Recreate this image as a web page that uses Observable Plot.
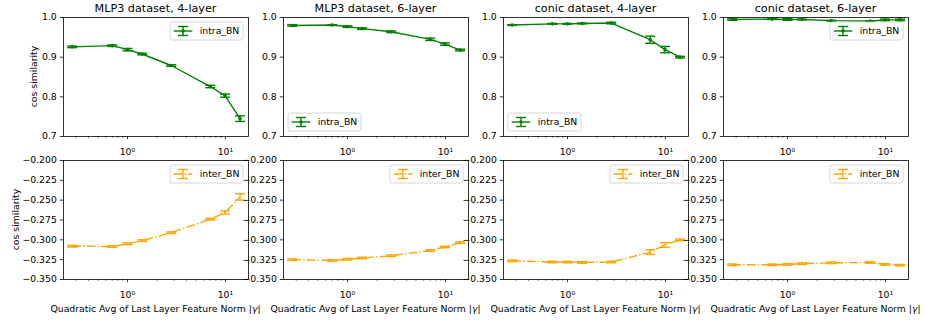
<!DOCTYPE html>
<html>
<head>
<meta charset="utf-8">
<script src="https://cdn.jsdelivr.net/npm/d3@7"></script>
<script src="https://cdn.jsdelivr.net/npm/@observablehq/plot@0.6"></script>
<style>
  body { margin: 0; background: #fff; }
  #fig { position: relative; width: 926px; height: 320px; overflow: hidden; background: #fff; font-family: "DejaVu Sans", sans-serif; }
  #fig > svg { position: absolute; }
</style>
</head>
<body>
<div id="fig"></div>
<script>
// ---------------- data ----------------
const xNorm = [0.273, 0.70, 1.0, 1.41, 2.8, 7.0, 9.9, 14.1];

const panelTitles = ["MLP3 dataset, 4-layer", "MLP3 dataset, 6-layer", "conic dataset, 4-layer", "conic dataset, 6-layer"];

const intraMLP3L4 = [0.926, 0.929, 0.919, 0.908, 0.879, 0.826, 0.803, 0.745];
const intraMLP3L4Err = [0.002, 0.002, 0.003, 0.002, 0.002, 0.003, 0.004, 0.007];
const intraMLP3L6 = [0.980, 0.981, 0.977, 0.972, 0.964, 0.945, 0.933, 0.918];
const intraMLP3L6Err = [0.002, 0.001, 0.002, 0.002, 0.002, 0.003, 0.003, 0.002];
const intraConicL4 = [0.981, 0.984, 0.984, 0.985, 0.986, 0.944, 0.919, 0.900];
const intraConicL4Err = [0.001, 0.001, 0.001, 0.001, 0.002, 0.009, 0.008, 0.002];
const intraConicL6 = [0.995, 0.996, 0.995, 0.995, 0.992, 0.991, 0.994, 0.994];
const intraConicL6Err = [0.002, 0.001, 0.002, 0.001, 0.001, 0.001, 0.002, 0.002];

const interMLP3L4 = [-0.308, -0.3085, -0.305, -0.301, -0.291, -0.274, -0.2655, -0.246];
const interMLP3L4Err = [0.001, 0.001, 0.001, 0.001, 0.001, 0.001, 0.002, 0.004];
const interMLP3L6 = [-0.325, -0.326, -0.3245, -0.323, -0.320, -0.3135, -0.309, -0.3035];
const interMLP3L6Err = [0.001, 0.001, 0.001, 0.001, 0.001, 0.001, 0.001, 0.001];
const interConicL4 = [-0.3265, -0.328, -0.328, -0.3285, -0.328, -0.3155, -0.3065, -0.300];
const interConicL4Err = [0.001, 0.001, 0.001, 0.001, 0.001, 0.003, 0.003, 0.001];
const interConicL6 = [-0.3315, -0.3315, -0.331, -0.330, -0.329, -0.3285, -0.331, -0.332];
const interConicL6Err = [0.001, 0.001, 0.001, 0.001, 0.001, 0.001, 0.001, 0.001];

const seriesNames = ["intra_BN", "inter_BN"];
const intraLegendLoc = ["upper right", "lower left", "lower left", "upper right"];
const interLegendLoc = ["upper right", "upper right", "upper right", "upper right"];

const topYTicks = [0.7, 0.8, 0.9, 1.0];
const bottomYTicks = [-0.350, -0.325, -0.300, -0.275, -0.250, -0.225, -0.200];
const xMajorTicks = [1, 10];
const xMajorLabels = ["10⁰", "10¹"];
const yLabelText = "cos similarity";
const xLabelText = "Quadratic Avg of Last Layer Feature Norm ";

// ---------------- layout / style ----------------
const FX = [63, 283, 503, 723], FW = 185;
const FY = [17, 160], FH = 119;
const X_DOMAIN = [0.2225, 17.2];
const GREEN = "#008000", ORANGE = "#FFA500";
const LW = 1.4;
const DASH = "8.8,2.2,1.4,2.2";
const FS = 9.3, TFS = 11.2;

const minorTicks = [0.1, 1].flatMap(b => d3.range(2, 10).map(k => k * b))
  .filter(v => v > X_DOMAIN[0] && v < X_DOMAIN[1]);

const capSymbol = {
  draw(ctx, size) {
    const w = Math.sqrt(size / Math.PI);
    ctx.moveTo(-w, 0);
    ctx.lineTo(w, 0);
  }
};

const intraSets = [[intraMLP3L4, intraMLP3L4Err], [intraMLP3L6, intraMLP3L6Err], [intraConicL4, intraConicL4Err], [intraConicL6, intraConicL6Err]];
const interSets = [[interMLP3L4, interMLP3L4Err], [interMLP3L6, interMLP3L6Err], [interConicL4, interConicL4Err], [interConicL6, interConicL6Err]];

function rows(vals, errs) {
  return xNorm.map((x, i) => ({x, y: vals[i], lo: vals[i] - errs[i], hi: vals[i] + errs[i]}));
}

const fig = document.getElementById("fig");

function panel(col, row, data, color, dashed, marker) {
  const ml = col === 0 ? FX[0] : 50, mr = 6;
  const mt = row === 0 ? FY[0] : 10, mb = row === 0 ? 24 : 20;
  const lineOpts = {x: "x", y: "y", stroke: color, strokeWidth: LW};
  if (dashed) Object.assign(lineOpts, {strokeDasharray: DASH, strokeLinecap: "butt"});
  const yTicks = row === 0 ? topYTicks : bottomYTicks;
  const yFmt = row === 0 ? d3.format(".1f") : d3.format(".3f");
  const marks = [
    Plot.axisY({ticks: yTicks, tickFormat: yFmt, tickSize: 3.2, tickPadding: 3.5, label: null, strokeWidth: 0.8}),
    Plot.axisX({ticks: minorTicks, tickFormat: () => "", tickSize: 1.8, label: null, strokeWidth: 0.6}),
    Plot.axisX({ticks: xMajorTicks, tickFormat: d => xMajorLabels[xMajorTicks.indexOf(d)], tickSize: 3.2, tickPadding: 8.3, label: null, strokeWidth: 0.8}),
    Plot.line(data, lineOpts),
    Plot.ruleX(data, {x: "x", y1: "lo", y2: "hi", stroke: color, strokeWidth: LW}),
    Plot.dot(data, {x: "x", y: "lo", symbol: capSymbol, r: 5, stroke: color, strokeWidth: LW, fill: "none"}),
    Plot.dot(data, {x: "x", y: "hi", symbol: capSymbol, r: 5, stroke: color, strokeWidth: LW, fill: "none"}),
    marker ? Plot.dot(data, {x: "x", y: "y", r: 1.8, fill: color, stroke: "none"}) : null,
    Plot.frame({stroke: "black", strokeWidth: 0.8})
  ].filter(Boolean);
  const svg = Plot.plot({
    width: FW + ml + mr,
    height: FH + mt + mb,
    marginLeft: ml, marginRight: mr, marginTop: mt, marginBottom: mb,
    x: {type: "log", domain: X_DOMAIN},
    y: {domain: row === 0 ? [0.7, 1.0] : [-0.35, -0.2]},
    style: {background: "transparent", fontFamily: "DejaVu Sans", fontSize: FS + "px", color: "black", overflow: "visible"},
    marks
  });
  svg.style.left = (FX[col] - ml) + "px";
  svg.style.top = (FY[row] - mt) + "px";
  fig.appendChild(svg);
}

for (let c = 0; c < 4; c++) {
  panel(c, 0, rows(...intraSets[c]), GREEN, false, true);
  panel(c, 1, rows(...interSets[c]), ORANGE, true, false);
}

// ---------------- annotations overlay ----------------
const ov = d3.create("svg")
  .attr("width", 926).attr("height", 320)
  .style("left", "0px").style("top", "0px")
  .style("pointer-events", "none")
  .attr("font-family", "DejaVu Sans");

// titles
panelTitles.forEach((t, c) => {
  ov.append("text").attr("x", FX[c] + FW / 2).attr("y", 11.8)
    .attr("text-anchor", "middle").attr("font-size", TFS).attr("fill", "black").text(t);
});
// y labels
[[37, FY[0]], [18.5, FY[1]]].forEach(([x, fy]) => {
  ov.append("text").attr("transform", `translate(${x},${fy + FH / 2}) rotate(-90)`)
    .attr("text-anchor", "middle").attr("font-size", FS).attr("fill", "black").text(yLabelText);
});
// x labels
FX.forEach(fx => {
  const t = ov.append("text").attr("x", fx + FW / 2).attr("y", 311.5)
    .attr("text-anchor", "middle").attr("font-size", FS).attr("fill", "black");
  t.append("tspan").text(xLabelText + "|");
  t.append("tspan").attr("font-style", "italic").text("γ");
  t.append("tspan").text("|");
});

// legends
function legend(col, row, loc, name, color, dashed, marker) {
  const w = 73, h = 18, pad = 5;
  const bx = loc === "upper right" ? FX[col] + FW - pad - w : FX[col] + pad;
  const by = loc === "upper right" ? FY[row] + pad : FY[row] + FH - pad - h;
  const g = ov.append("g");
  g.append("rect").attr("x", bx).attr("y", by).attr("width", w).attr("height", h)
    .attr("rx", 2).attr("fill", "white").attr("fill-opacity", 0.8)
    .attr("stroke", "#cccccc").attr("stroke-width", 0.8);
  const x0 = bx + 3.7, x1 = x0 + 18.6, cx = (x0 + x1) / 2, cy = by + h / 2;
  const ln = g.append("line").attr("x1", x0).attr("x2", x1).attr("y1", cy).attr("y2", cy)
    .attr("stroke", color).attr("stroke-width", LW);
  if (dashed) ln.attr("stroke-dasharray", DASH);
  g.append("line").attr("x1", cx).attr("x2", cx).attr("y1", cy - 4.5).attr("y2", cy + 4.5)
    .attr("stroke", color).attr("stroke-width", LW);
  [cy - 4.5, cy + 4.5].forEach(yy => g.append("line").attr("x1", cx - 5).attr("x2", cx + 5)
    .attr("y1", yy).attr("y2", yy).attr("stroke", color).attr("stroke-width", LW));
  if (marker) g.append("circle").attr("cx", cx).attr("cy", cy).attr("r", 1.8).attr("fill", color);
  g.append("text").attr("x", x1 + 7.4).attr("y", cy + 3.4).attr("font-size", FS).attr("fill", "black").text(name);
}
for (let c = 0; c < 4; c++) {
  legend(c, 0, intraLegendLoc[c], seriesNames[0], GREEN, false, true);
  legend(c, 1, interLegendLoc[c], seriesNames[1], ORANGE, true, false);
}

fig.appendChild(ov.node());
</script>
</body>
</html>
